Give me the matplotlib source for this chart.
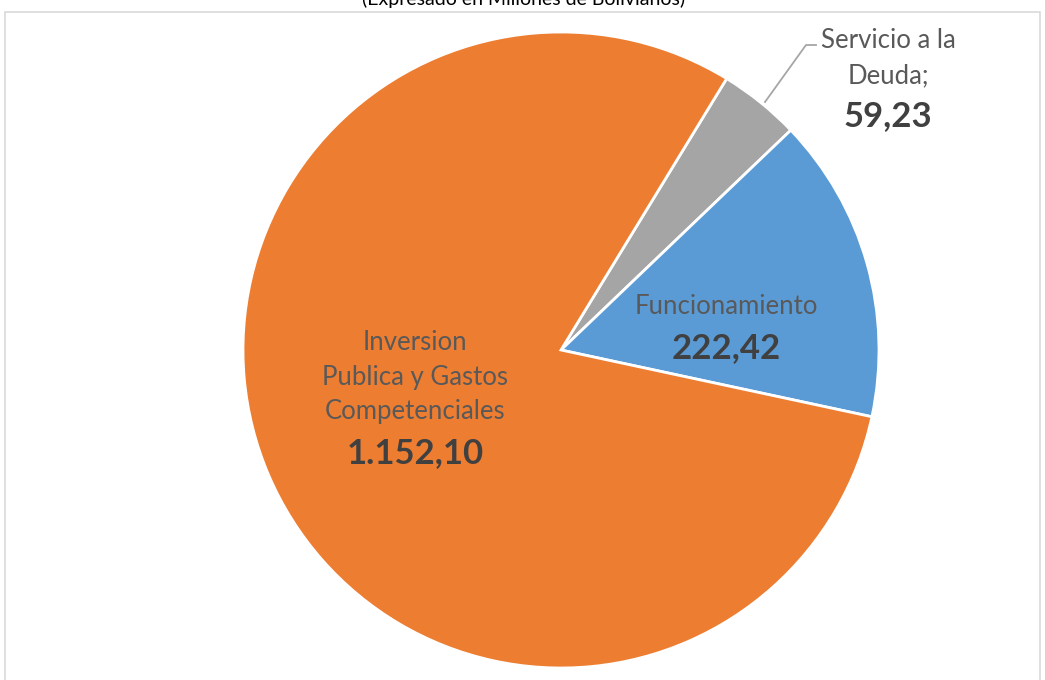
import matplotlib.pyplot as plt
from matplotlib.patches import Rectangle

categorias = ["Servicio a la\nDeuda;", "Funcionamiento", "Inversion\nPublica y Gastos\nCompetenciales"]
valores = [59.23, 222.42, 1152.10]
etiquetas_valor = ["59,23", "222,42", "1.152,10"]
colores = ["#A5A5A5", "#5B9BD5", "#ED7D31"]

plt.rcParams['font.family'] = ['Lato', 'DejaVu Sans']

fig = plt.figure(figsize=(10.45, 6.8), dpi=100)
ax = fig.add_axes([0, 0, 1, 1])

# marco del grafico
fig.patches.append(Rectangle((5 / 1045, -0.05), 1035 / 1045, 1.05 - 12 / 680,
                             transform=fig.transFigure, fill=False,
                             edgecolor="#D9D9D9", linewidth=1.2))

cx, cy, r = 561, 680 - 350, 318
ax.pie(valores, colors=colores, startangle=58.6, counterclock=False,
       center=(cx, cy), radius=r, frame=True,
       wedgeprops=dict(edgecolor="white", linewidth=2))
ax.set_xlim(0, 1045)
ax.set_ylim(0, 680)
ax.set_aspect("equal")
ax.axis("off")

gris_txt = "#595959"
gris_val = "#404040"
fs_cat = 18.5
fs_val = 25

# Inversion
ax.text(415, 680 - 377, categorias[2], ha="center", va="center", fontsize=fs_cat,
        color=gris_txt, linespacing=1.45)
ax.text(415, 680 - 453, etiquetas_valor[2], ha="center", va="center", fontsize=fs_val,
        color=gris_val, fontweight="bold")

# Funcionamiento
ax.text(726, 680 - 307, categorias[1], ha="center", va="center", fontsize=fs_cat,
        color=gris_txt)
ax.text(726, 680 - 348, etiquetas_valor[1], ha="center", va="center", fontsize=fs_val,
        color=gris_val, fontweight="bold")

# Servicio a la Deuda
ax.text(888, 680 - 58, categorias[0], ha="center", va="center", fontsize=fs_cat,
        color=gris_txt, linespacing=1.5)
ax.text(888, 680 - 116, etiquetas_valor[0], ha="center", va="center", fontsize=fs_val,
        color=gris_val, fontweight="bold")
ax.plot([765, 806, 816], [680 - 102, 680 - 45, 680 - 45], color="#A6A6A6", linewidth=1.3)

fig.text(524 / 1045, 1 - 5 / 680, "(Expresado en Millones de Bolivianos)", ha="center",
         va="baseline", fontsize=14, color="#000000")

fig.savefig("out.png", dpi=100, facecolor="white")
